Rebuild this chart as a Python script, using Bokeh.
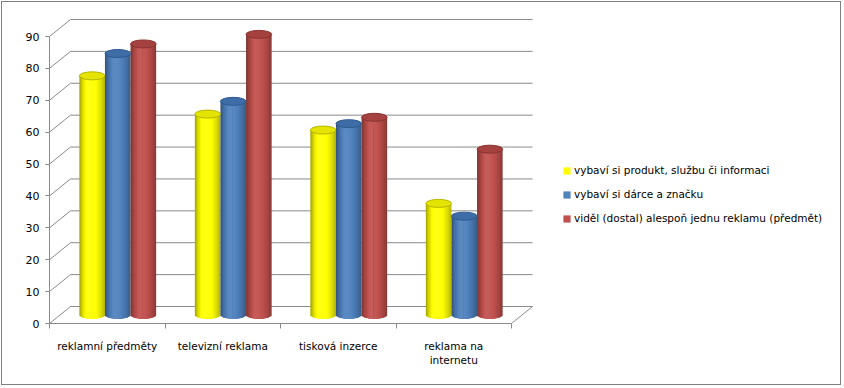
import math
from bokeh.plotting import figure
from bokeh.models import (Range1d, LinearAxis, FixedTicker, Legend, LegendItem)
from bokeh.embed import file_html
from bokeh.resources import INLINE

# ---------------- data ----------------
categories = ["reklamní předměty", "televizní reklama", "tisková inzerce", "reklama na\ninternetu"]
series_names = ["vybaví si produkt, službu či informaci",
                "vybaví si dárce a značku",
                "viděl (dostal) alespoň jednu reklamu (předmět)"]
yellow_vals = [75, 63, 58, 35]
blue_vals = [82, 67, 60, 31]
red_vals = [85, 88, 62, 52]
y_ticks = [0, 10, 20, 30, 40, 50, 60, 70, 80, 90]

# ---------------- style ----------------
base_colors = ["#ffff00", "#4f81bd", "#c0504d"]
cap_colors = ["#e4e400", "#3d6ca6", "#a5413f"]
cap_lines = ["#b5b500", "#2f5a8e", "#8a3432"]
grid_color = "#8a8a8a"
FONT = "DejaVu Sans"
FS = "10.5px"

PX_X = 115.5           # pixels per category
PX_Y = 287 / 90.0      # pixels per value unit
DX = 21 / PX_X         # depth offset (data units)
DY = 17 / PX_Y
MDX, MDY = DX / 2, DY / 2
BW = 25.6 / PX_X       # cylinder width
EH = 8 / PX_Y          # ellipse height
NSTRIP = 20

W, H = 840, 384
ML, MB, MT, MR = 47, 63, 6, 4
x_end = (W - ML - MR) / PX_X
y_end = (H - MT - MB) / PX_Y

p = figure(width=W, height=H, output_backend="svg", toolbar_location=None,
           x_range=Range1d(0, x_end), y_range=Range1d(0, y_end),
           x_axis_location=None, y_axis_location=None,
           min_border_left=ML, min_border_bottom=MB, min_border_top=MT,
           min_border_right=MR)
p.styles = {"border": "1px solid #808080", "margin": "1px"}
p.outline_line_color = None
p.background_fill_color = "white"
p.border_fill_color = "white"
p.xgrid.visible = False
p.ygrid.visible = False

# ---- 3D walls / gridlines ----
ncat = len(categories)
gx0, gy0, gx1, gy1 = [], [], [], []
for v in y_ticks:
    gx0.append(DX); gy0.append(v + DY); gx1.append(ncat + DX); gy1.append(v + DY)
    gx0.append(0); gy0.append(v); gx1.append(DX); gy1.append(v + DY)
gx0.append(ncat); gy0.append(0); gx1.append(ncat + DX); gy1.append(DY)
p.segment(x0=gx0, y0=gy0, x1=gx1, y1=gy1, line_color=grid_color, line_width=1)


def hex2rgb(h):
    h = h.lstrip("#")
    return [int(h[i:i + 2], 16) for i in (0, 2, 4)]


def shade(h, f):
    r = hex2rgb(h)
    if f <= 1:
        c = [int(round(x * f)) for x in r]
    else:
        a = f - 1
        c = [int(round(x + (255 - x) * a)) for x in r]
    return "#%02x%02x%02x" % tuple(max(0, min(255, x)) for x in c)


prof_t = [0.0, 0.1, 0.3, 0.45, 0.65, 0.85, 1.0]
prof_f = [0.62, 0.82, 1.06, 1.08, 1.0, 0.86, 0.7]


def profile(t):
    for a in range(len(prof_t) - 1):
        if prof_t[a] <= t <= prof_t[a + 1]:
            u = (t - prof_t[a]) / (prof_t[a + 1] - prof_t[a])
            return prof_f[a] + u * (prof_f[a + 1] - prof_f[a])
    return prof_f[-1]


all_series = [yellow_vals, blue_vals, red_vals]
L, R, B, T, C = [], [], [], [], []
cx_list, cy_list, cc_list, cl_list = [], [], [], []
half = NSTRIP // 2
for k, vals in enumerate(all_series):
    for i, v in enumerate(vals):
        cx = i + 0.5 + MDX + (k - 1) * BW
        x0 = cx - BW / 2
        sw = BW / NSTRIP
        # left half drawn left->right, each strip reaching the centre
        order = list(range(half)) + list(range(NSTRIP - 1, half - 1, -1))
        for j in order:
            tm = (j + 0.5) / NSTRIP
            if j < half:
                L.append(x0 + j * sw); R.append(cx + sw * 0.5)
            else:
                L.append(cx - sw * 0.5); R.append(x0 + (j + 1) * sw)
            B.append(MDY - (EH / 2) * math.sqrt(max(0.0, 1 - (2 * tm - 1) ** 2)))
            T.append(v + MDY)
            C.append(shade(base_colors[k], profile(tm)))
        cx_list.append(cx); cy_list.append(v + MDY)
        cc_list.append(cap_colors[k]); cl_list.append(cap_lines[k])

p.quad(left=L, right=R, bottom=B, top=T, fill_color=C, line_color=None)
p.ellipse(x=cx_list, y=cy_list, width=BW, height=EH, fill_color=cc_list,
          line_color=cl_list, line_width=1)

# ---- axes ----
yax = LinearAxis(ticker=FixedTicker(ticks=y_ticks), bounds=(0, 90))
yax.axis_line_color = grid_color
yax.major_tick_line_color = grid_color
yax.major_tick_out = 4
yax.major_tick_in = 0
yax.minor_tick_out = 0
yax.minor_tick_in = 0
yax.major_label_standoff = 6
yax.major_label_text_font = FONT
yax.major_label_text_font_size = "11px"
yax.major_label_text_color = "#000000"
p.add_layout(yax, "left")

div_ticks = list(range(ncat + 1))
xax = LinearAxis(ticker=FixedTicker(ticks=div_ticks), bounds=(0, ncat))
xax.axis_line_color = grid_color
xax.major_tick_line_color = grid_color
xax.major_tick_out = 5
xax.major_tick_in = 0
xax.minor_tick_out = 0
xax.minor_tick_in = 0
xax.major_label_overrides = {t: "" for t in div_ticks}
xax.major_label_text_font = FONT
xax.major_label_text_font_size = "2px"
xax.major_label_standoff = 0
p.add_layout(xax, "below")

lax = LinearAxis(ticker=FixedTicker(ticks=[i + 0.5 for i in range(ncat)]))
lax.major_label_overrides = {i + 0.5: c for i, c in enumerate(categories)}
lax.axis_line_color = None
lax.major_tick_line_color = None
lax.major_tick_out = 0
lax.major_tick_in = 0
lax.minor_tick_out = 0
lax.minor_tick_in = 0
lax.major_label_standoff = 11
lax.major_label_text_font = FONT
lax.major_label_text_font_size = FS
lax.major_label_text_color = "#000000"
p.add_layout(lax, "below")

# ---- legend ----
items = []
for k, name in enumerate(series_names):
    r = p.quad(left=[0], right=[0], bottom=[0], top=[0], fill_color=base_colors[k],
               line_color=None)
    items.append(LegendItem(label=name, renderers=[r]))
legend = Legend(items=items, location=(513, 98))
legend.glyph_width = 9
legend.glyph_height = 9
legend.label_height = 14
legend.spacing = 10
legend.padding = 0
legend.margin = 0
legend.label_standoff = 3
legend.label_text_font = FONT
legend.label_text_font_size = FS
legend.label_text_color = "#000000"
legend.border_line_color = None
legend.background_fill_alpha = 0
p.add_layout(legend, "center")

open("out.html", "w").write(file_html(p, INLINE))
